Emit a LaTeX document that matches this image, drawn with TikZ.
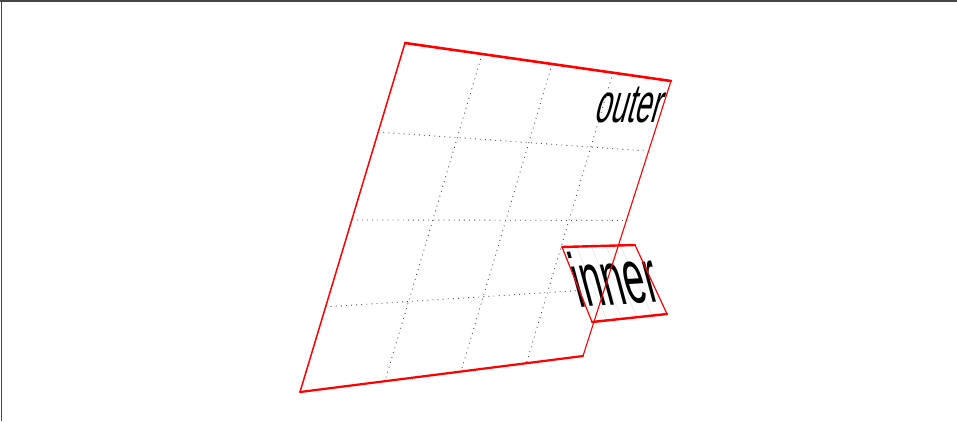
\documentclass[tikz,border=0pt]{standalone}
\usepackage{fontspec}
\setmainfont{Liberation Sans}
\usetikzlibrary{calc}
\begin{document}
\begin{tikzpicture}[x=1pt,y=-1pt,
  gridline/.style={gray!60!black, line width=0.9pt, dash pattern=on 0.9pt off 4.2pt},
  faintline/.style={gray!22, line width=0.5pt},
  redline/.style={red, line cap=round, line join=round},
  warptext/.style={inner sep=0pt, transform shape, text=black},
  frameline/.style={gray!55!black, line width=1.6pt}]
\useasboundingbox (0,0) rectangle (957,421);
% frame
\coordinate (f1) at (0,1);
\coordinate (f2) at (957,1);
\coordinate (f3) at (1.5,0);
\coordinate (f4) at (1.5,421);
\draw[frameline] (f1) -- (f2);
\draw[frameline] (f3) -- (f4);
% outer corners
\coordinate (TL) at (405,43);
\coordinate (TR) at (671,81);
\coordinate (BR) at (583,356);
\coordinate (BL) at (300,392);
% outer grid
\foreach \a/\b in {0.29/0.30, 0.553/0.569, 0.782/0.80}
  \draw[gridline] ($(TL)!\a!(TR)$) -- ($(BL)!\b!(BR)$);
\foreach \f in {0.255,0.507,0.756}
  \draw[gridline] ($(TL)!\f!(BL)$) -- ($(TR)!\f!(BR)$);
% outer text
\node[warptext, cm={0.52,0,0.28,1,(0,0)}, anchor=base east,
      font=\fontsize{55}{55}\selectfont] (outer) at (659,122) {outer};
% inner box
\coordinate (iTL) at (562,247);
\coordinate (iTR) at (635,245);
\coordinate (iBR) at (667,314);
\coordinate (iBL) at (592,322);
\fill[white] (iTL) -- (iTR) -- (iBR) -- (iBL) -- cycle;
\foreach \f in {0.2,0.4,0.6,0.8}
  \draw[faintline] ($(iTL)!\f!(iTR)$) -- ($(iBL)!\f!(iBR)$);
\node[warptext, cm={0.5,0.03,-0.27,1,(0,0)}, anchor=base west,
      font=\fontsize{76}{76}\selectfont] (inner) at (579,307) {inner};
\draw[redline, line width=2.4pt] (iTL) -- (iTR);
\draw[redline, line width=2.4pt] (iBL) -- (iBR);
\draw[redline, line width=1.2pt] (iTL) -- (iBL);
\draw[redline, line width=1.2pt] (iTR) -- (iBR);
% outer border
\draw[redline, line width=2.6pt] (TL) -- (TR);
\draw[redline, line width=2.2pt] (BL) -- (BR);
\draw[redline, line width=1.5pt] (TL) -- (BL);
\draw[redline, line width=1.1pt] (TR) -- (BR);
\end{tikzpicture}
\end{document}
